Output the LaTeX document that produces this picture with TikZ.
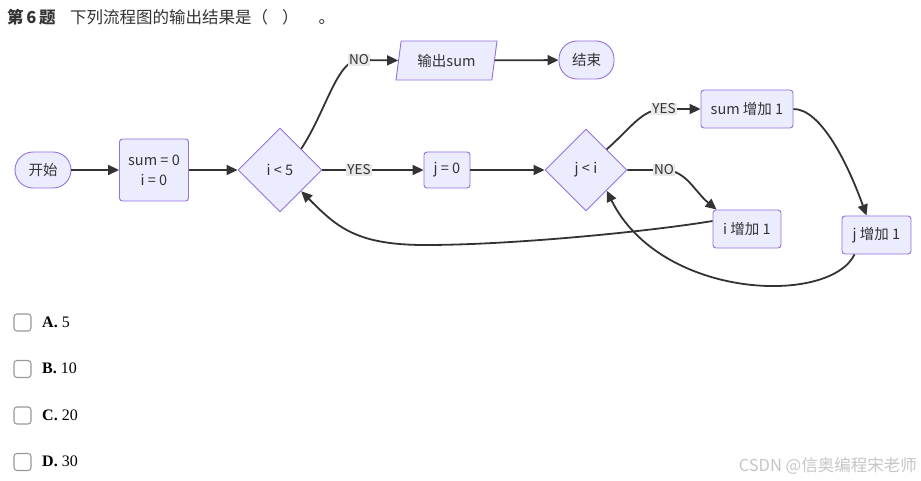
\documentclass[tikz,border=0pt]{standalone}
\usepackage{fontspec}
\setmainfont{Liberation Serif}
\newfontfamily\cjk{Noto Sans CJK SC}
\usetikzlibrary{shapes.geometric,arrows.meta}
\definecolor{nodefill}{HTML}{ECECFF}
\definecolor{nodeline}{HTML}{9370DB}
\definecolor{edgec}{HTML}{333333}
\definecolor{lblbg}{HTML}{E8E8E8}
\tikzset{
  base/.style={draw=nodeline, fill=nodefill, line width=0.9pt, text=edgec, font=\cjk\fontsize{14.5}{17}\selectfont, inner sep=0pt},
  procbox/.style={base, rectangle, rounded corners=3pt},
  stadium/.style={base, rectangle, rounded corners=18pt},
  decision/.style={base, diamond, aspect=1, minimum size=84pt},
  iobox/.style={base, trapezium, trapezium left angle=69, trapezium right angle=111, trapezium stretches body, minimum width=101pt, minimum height=39pt},
  edge/.style={draw=edgec, line width=1.8pt, -{Triangle[length=11pt,width=10pt]}},
  lbl/.style={fill=lblbg, text=edgec, inner sep=1pt, font=\cjk\fontsize{13.5}{15}\selectfont},
  chk/.style={draw=gray!120!black, line width=1.1pt, rounded corners=3pt, minimum width=17pt, minimum height=17pt, inner sep=0pt},
  opt/.style={anchor=west, inner sep=0pt, font=\fontsize{16}{18}\selectfont}
}
\begin{document}
\begin{tikzpicture}[x=1pt,y=-1pt]
\useasboundingbox (0,0) rectangle (921,481);
\fill[white] (0,0) rectangle (921,481);
% title
\node[anchor=west, inner sep=0pt, font=\cjk\bfseries\fontsize{16.5}{18}\selectfont, text=edgec] (t1) at (7,17) {第\,6\,题};
\node[anchor=west, inner sep=0pt, font=\cjk\fontsize{16.5}{18}\selectfont, text=edgec] (t2) at (70,17) {下列流程图的输出结果是（\hspace{14pt}）\hspace{20pt}。};
% nodes
\node[stadium, minimum width=56pt, minimum height=36pt] (start) at (43,170) {开始};
\node[procbox, minimum width=69pt, minimum height=62pt, align=center] (init) at (154,170) {sum = 0\\[3pt] i = 0};
\node[decision] (d1) at (280,170) {i < 5};
\node[procbox, minimum width=46pt, minimum height=36pt] (j0) at (447,170) {j = 0};
\node[decision, minimum size=82pt] (d2) at (586,170) {j < i};
\node[iobox] (out) at (446.5,60.5) {输出sum};
\node[stadium, minimum width=55pt, minimum height=38pt] (stop) at (586.5,60) {结束};
\node[procbox, minimum width=92pt, minimum height=38pt] (s1) at (747,109) {sum 增加 1};
\node[procbox, minimum width=68pt, minimum height=38pt] (i1) at (747,229) {i 增加 1};
\node[procbox, minimum width=69pt, minimum height=38pt] (j1) at (876.5,235) {j 增加 1};
% label positions
\coordinate (no1) at (359,60);
\coordinate (yes1) at (359,170);
\coordinate (yes2) at (664,109);
\coordinate (no2) at (664,170);
\coordinate (lowA) at (425,245);
% edges
\draw[edge] (start) -- (init);
\draw[edge] (init) -- (d1);
\draw[edge] (d1) -- (j0);
\draw[edge] (j0) -- (d2);
\draw[edge] (d1.north east) .. controls +(25,-38) and +(-22,0) .. (no1) -- (out.west);
\draw[edge] (out) -- (stop);
\draw[edge] (d2.north east) .. controls +(25,-22) and +(-22,0) .. (yes2) -- (s1.west);
\draw[edge] (d2.east) -- (no2) .. controls +(22,0) and +(-22,-18) .. ([xshift=4pt]i1.north west);
\draw[edge] (s1.east) .. controls +(28,0) and +(-18,-50) .. ([xshift=-10pt]j1.north);
\draw[edge] ([xshift=13pt]j1.south west) .. controls +(-25,51) and +(54,109) .. (d2.south east);
\draw[edge] ([yshift=8pt]i1.west) .. controls +(-60,10) and +(90,0) .. (lowA) .. controls +(-70,0) and +(35,35) .. (d1.south east);
% labels
\node[lbl] (no1l) at (no1) {NO};
\node[lbl] (yes1l) at (yes1) {YES};
\node[lbl] (yes2l) at (yes2) {YES};
\node[lbl] (no2l) at (no2) {NO};
% options
\node[chk] (ca) at (22.5,322.5) {};
\node[chk] (cb) at (22.5,369) {};
\node[chk] (cc) at (22.5,415.5) {};
\node[chk] (cd) at (22.5,462) {};
\node[opt] (oa) at (42,322) {\textbf{A.} 5};
\node[opt] (ob) at (42,368) {\textbf{B.} 10};
\node[opt] (oc) at (42,415) {\textbf{C.} 20};
\node[opt] (od) at (42,461) {\textbf{D.} 30};
% watermark
\node[anchor=east, inner sep=0pt, text=gray!45, font=\cjk\fontsize{16.5}{18}\selectfont] (wm) at (917,466) {CSDN @信奥编程宋老师};
\end{tikzpicture}
\end{document}
